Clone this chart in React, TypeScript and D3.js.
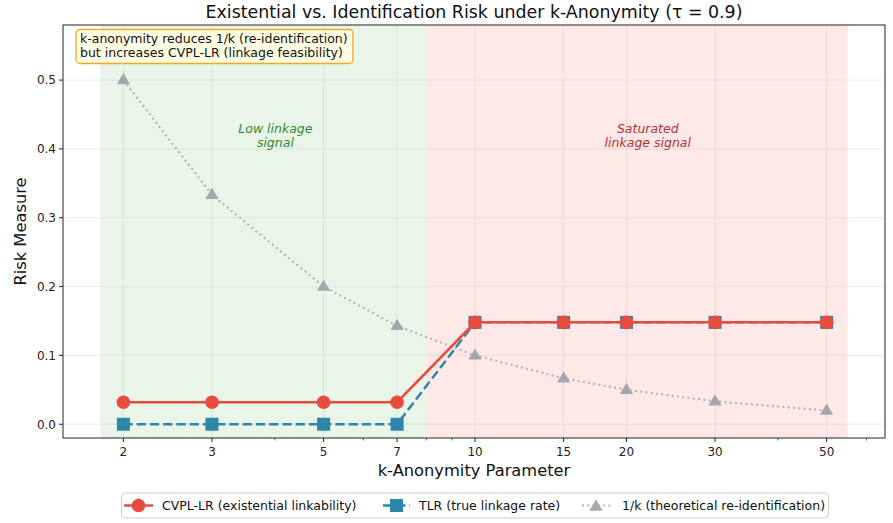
import React from "react";
import * as d3 from "d3";

const kValues = [2, 3, 5, 7, 10, 15, 20, 30, 50];
const cvplLR = [0.032, 0.032, 0.032, 0.032, 0.148, 0.148, 0.148, 0.148, 0.148];
const tlr = [0, 0, 0, 0, 0.148, 0.148, 0.148, 0.148, 0.148];
const invK = [0.5, 0.3333, 0.2, 0.1429, 0.1, 0.0667, 0.05, 0.0333, 0.02];
const xTicks = [2, 3, 5, 7, 10, 15, 20, 30, 50];
const xMinorTicks = [4, 6, 8, 9, 40, 60];
const yTicks = [0, 0.1, 0.2, 0.3, 0.4, 0.5];
const lowSpan = [1.8, 8];
const highSpan = [8, 55];

const W = 893, H = 523;
const M = { left: 63, right: 885, top: 25, bottom: 438 };
const FONT = "DejaVu Sans, sans-serif";

const RED = "#e74c3c";
const BLUE = "#2e86ab";
const GRAY = "#95a5a6";

export default function App() {
  const xs = d3.scaleLog().domain([1.517, 65.3]).range([M.left, M.right]);
  const ys = d3.scaleLinear().domain([-0.02, 0.58]).range([M.bottom, M.top]);
  const line = (vals: number[]) =>
    d3.line<number>().x((_, i) => xs(kValues[i])).y((d) => ys(d))(vals) || "";

  const tri = (cx: number, cy: number, s: number) =>
    `M${cx},${cy - s}L${cx + s * 0.95},${cy + s * 0.6}L${cx - s * 0.95},${cy + s * 0.6}Z`;

  const cx = (M.left + M.right) / 2;

  return (
    <svg width={W} height={H} style={{ display: "block", position: "absolute", left: 0, top: 0 }} fontFamily={FONT}>
      <rect width={W} height={H} fill="white" />
      {/* spans */}
      <rect x={xs(lowSpan[0])} y={M.top} width={xs(lowSpan[1]) - xs(lowSpan[0])} height={M.bottom - M.top} fill="#2ca02c" fillOpacity={0.1} />
      <rect x={xs(highSpan[0])} y={M.top} width={xs(highSpan[1]) - xs(highSpan[0])} height={M.bottom - M.top} fill="#ff0000" fillOpacity={0.09} />
      {/* grid */}
      {xTicks.map((t) => (
        <line key={"gx" + t} x1={xs(t)} x2={xs(t)} y1={M.top} y2={M.bottom} stroke="#b0b0b0" strokeOpacity={0.3} strokeWidth={0.8} />
      ))}
      {yTicks.map((t) => (
        <line key={"gy" + t} x1={M.left} x2={M.right} y1={ys(t)} y2={ys(t)} stroke="#b0b0b0" strokeOpacity={0.3} strokeWidth={0.8} />
      ))}
      {/* 1/k */}
      <g opacity={0.8}>
        <path d={line(invK)} fill="none" stroke={GRAY} strokeWidth={2} strokeDasharray="2,3.3" />
        {invK.map((v, i) => (
          <path key={"t" + i} d={tri(xs(kValues[i]), ys(v), 7)} fill="#8f989e" />
        ))}
      </g>
      {/* TLR */}
      <path d={line(tlr)} fill="none" stroke={BLUE} strokeWidth={2.5} strokeDasharray="9.25,4" />
      {tlr.map((v, i) => (
        <rect key={"s" + i} x={xs(kValues[i]) - 6.5} y={ys(v) - 6.5} width={13} height={13} fill={BLUE} />
      ))}
      {/* CVPL */}
      <path d={line(cvplLR)} fill="none" stroke={RED} strokeWidth={2.5} />
      {cvplLR.map((v, i) => (
        <circle key={"c" + i} cx={xs(kValues[i])} cy={ys(v)} r={6.8} fill={RED} />
      ))}
      {/* region texts */}
      <text x={xs(4.01)} y={133} textAnchor="middle" fontSize={12.5} fontStyle="italic" fill="#2e8b2e">
        <tspan x={xs(4.01)} dy={0}>Low linkage</tspan>
        <tspan x={xs(4.01)} dy={14}>signal</tspan>
      </text>
      <text x={xs(22.05)} y={133} textAnchor="middle" fontSize={12.5} fontStyle="italic" fill="#b83232">
        <tspan x={xs(22.05)} dy={0}>Saturated</tspan>
        <tspan x={xs(22.05)} dy={14}>linkage signal</tspan>
      </text>
      {/* annotation box */}
      <rect x={76} y={29.5} width={277} height={34} rx={4} fill="#fffde2" stroke="#f5a623" strokeWidth={1.3} />
      <text x={80} y={43} fontSize={12.5} fill="#111">k-anonymity reduces 1/k (re-identification)</text>
      <text x={80} y={57} fontSize={12.5} fill="#111">but increases CVPL-LR (linkage feasibility)</text>
      {/* spines */}
      <rect x={M.left} y={M.top} width={M.right - M.left} height={M.bottom - M.top} fill="none" stroke="#222" strokeWidth={1} />
      {/* x ticks */}
      {xTicks.map((t) => (
        <g key={"xt" + t}>
          <line x1={xs(t)} x2={xs(t)} y1={M.bottom} y2={M.bottom + 4} stroke="#222" />
          <text x={xs(t)} y={M.bottom + 18} textAnchor="middle" fontSize={12} fill="#222">{t}</text>
        </g>
      ))}
      {xMinorTicks.map((t) => (
        <line key={"xm" + t} x1={xs(t)} x2={xs(t)} y1={M.bottom} y2={M.bottom + 2.5} stroke="#222" strokeWidth={0.7} />
      ))}
      {yTicks.map((t) => (
        <g key={"yt" + t}>
          <line x1={M.left - 4} x2={M.left} y1={ys(t)} y2={ys(t)} stroke="#222" />
          <text x={M.left - 7} y={ys(t) + 4.3} textAnchor="end" fontSize={12} fill="#222">{t.toFixed(1)}</text>
        </g>
      ))}
      {/* labels */}
      <text x={cx} y={476} textAnchor="middle" fontSize={16.3} fill="#111">k-Anonymity Parameter</text>
      <text transform={`translate(26,${(M.top + M.bottom) / 2}) rotate(-90)`} textAnchor="middle" fontSize={16.3} fill="#111">Risk Measure</text>
      <text x={cx} y={18} textAnchor="middle" fontSize={17.4} fill="#111">Existential vs. Identification Risk under k-Anonymity (τ = 0.9)</text>
      {/* legend */}
      <rect x={121.5} y={493} width={707} height={25} rx={4} fill="white" stroke="#cccccc" strokeWidth={1} />
      <line x1={124} x2={153} y1={505.5} y2={505.5} stroke={RED} strokeWidth={2.5} />
      <circle cx={138.5} cy={505.5} r={6.8} fill={RED} />
      <text x={162} y={510} fontSize={12.5} fill="#111">CVPL-LR (existential linkability)</text>
      <line x1={383} x2={410} y1={505.5} y2={505.5} stroke={BLUE} strokeWidth={2.5} strokeDasharray="9.25,4" />
      <rect x={390} y={499} width={13} height={13} fill={BLUE} />
      <text x={419} y={510} fontSize={12.5} fill="#111">TLR (true linkage rate)</text>
      <g opacity={0.8}>
        <line x1={582} x2={610} y1={505.5} y2={505.5} stroke={GRAY} strokeWidth={2} strokeDasharray="2,3.3" />
        <path d={tri(596, 506.5, 7)} fill="#8f989e" />
      </g>
      <text x={622} y={510} fontSize={12.5} fill="#111">1/k (theoretical re-identification)</text>
    </svg>
  );
}
